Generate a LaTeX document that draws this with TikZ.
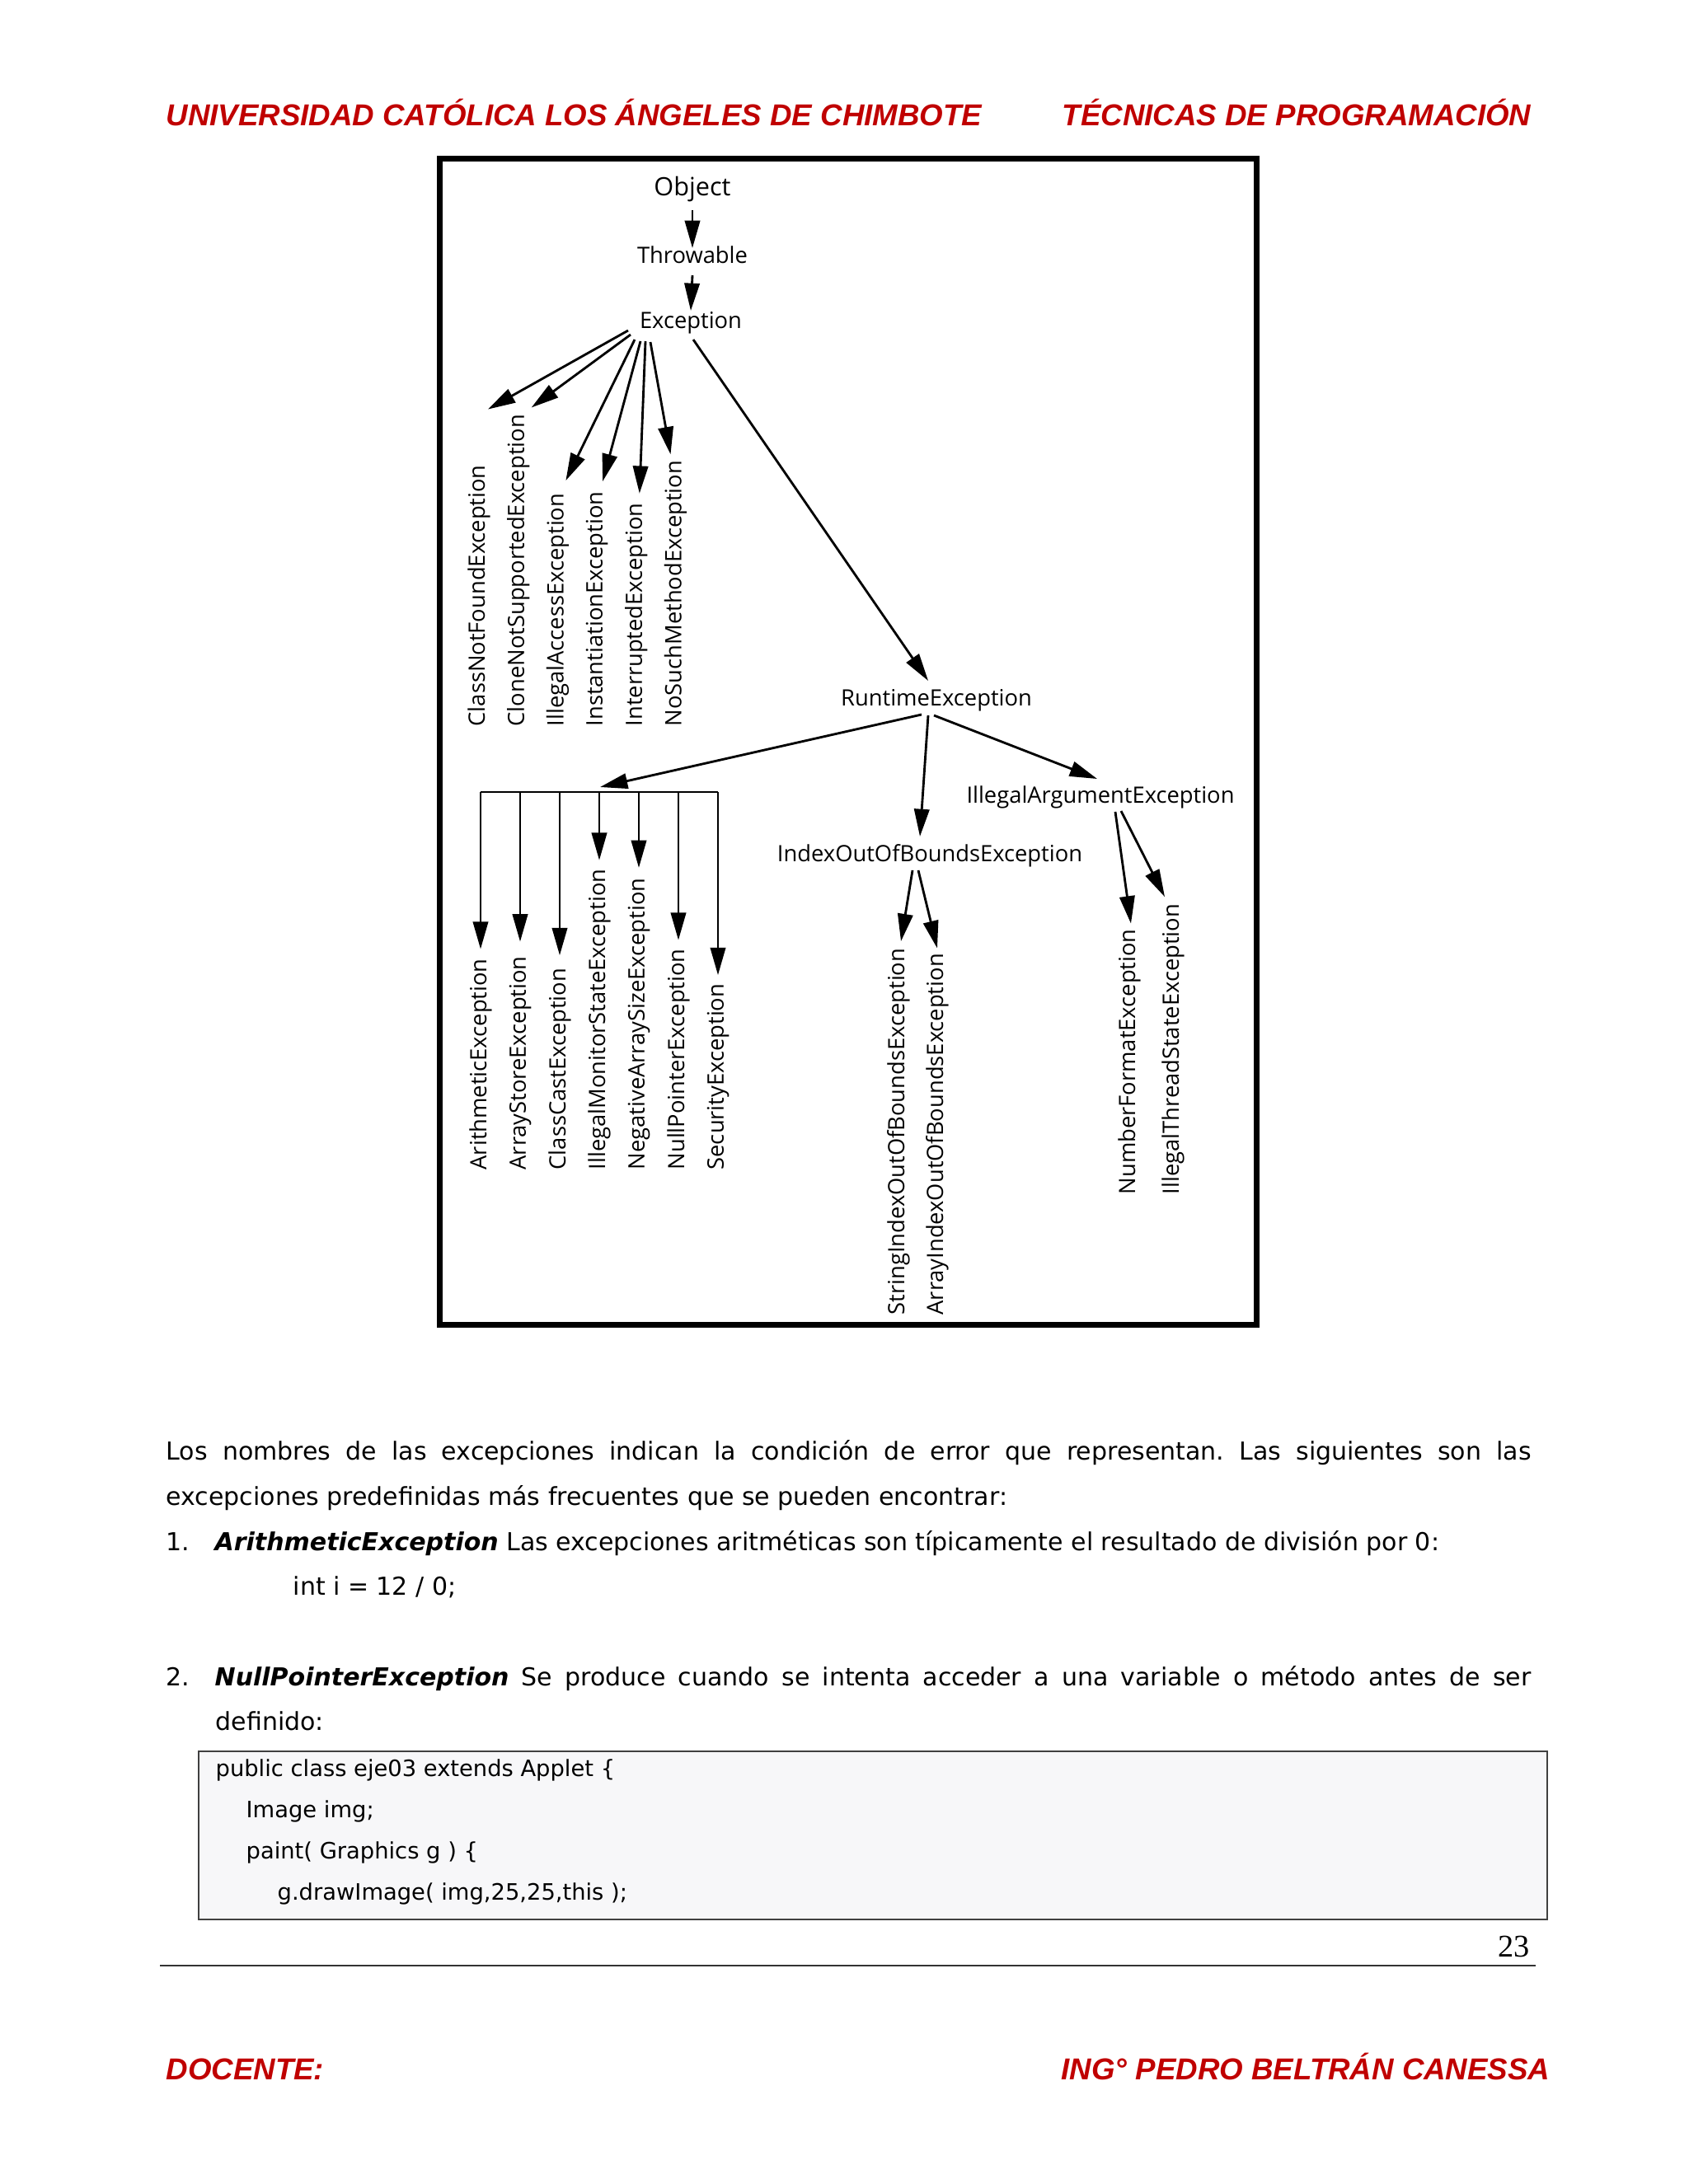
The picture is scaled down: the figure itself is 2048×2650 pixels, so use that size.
\documentclass[tikz,border=0pt]{standalone}
\usepackage{fontspec}
\setmainfont{DejaVu Sans}
\newfontfamily\diagfont{Open Sans}
\newfontfamily\headfont{Liberation Sans}
\newfontfamily\pagefont{Liberation Serif}
\usetikzlibrary{arrows.meta, positioning, calc}
\definecolor{headred}{HTML}{C00000}
\definecolor{codebg}{HTML}{F7F7F9}
\definecolor{codeline}{HTML}{404040}
\newlength{\pxu}
\setlength{\pxu}{0.10543mm}
\frenchspacing
\tikzset{
  arr/.style={-{Triangle[length=10pt,width=5.5pt]}, line width=0.85pt},
  cls/.style={font=\diagfont\fontsize{8.2}{10}\selectfont, inner sep=0pt, anchor=base},
  vcls/.style={font=\diagfont\fontsize{8.2}{10}\selectfont, inner sep=0pt, rotate=90, anchor=west},
  head/.style={font=\headfont\bfseries\itshape\fontsize{11}{13}\selectfont, text=headred, inner sep=0pt},
  body/.style={font=\fontsize{9}{11}\selectfont, inner sep=0pt, anchor=base west},
  code/.style={font=\fontsize{8.2}{10}\selectfont, inner sep=0pt, anchor=base west}
}

\begin{document}
\begin{tikzpicture}[x=0.10543mm, y=-0.10543mm]
            \useasboundingbox (0,0) rectangle (2048,2650);
            \fill[white] (0,0) rectangle (2048,2650);

            \node[head, anchor=base west] (hl) at (201,152) {UNIVERSIDAD CATÓLICA LOS ÁNGELES DE CHIMBOTE};
            \node[head, anchor=base east] (hr) at (1858,152) {TÉCNICAS DE PROGRAMACIÓN};

            \draw[line width=2.1pt] (533,192) rectangle (1524,1607);

            \node[cls, font=\diagfont\fontsize{9.2}{11}\selectfont] (obj) at (840,237) {Object};
            \node[cls] (thr) at (840,319) {Throwable};
            \node[cls] (exc) at (838,398) {Exception};
            \node[cls] (run) at (1136,856) {RuntimeException};
            \node[cls] (ia) at (1335,974) {IllegalArgumentException};
            \node[cls] (ioob) at (1128,1045) {IndexOutOfBoundsException};

            \foreach \n/\t [count=\i from 0] in {cnf/ClassNotFoundException, cns/CloneNotSupportedException, iae/IllegalAccessException, ie/InstantiationException, inte/InterruptedException, nsm/NoSuchMethodException}
              \node[vcls] (\n) at (581+47.7*\i, 882) {\t};

            \foreach \n/\t [count=\i from 0] in {ari/ArithmeticException, ast/ArrayStoreException, ccs/ClassCastException, ims/IllegalMonitorStateException, nas/NegativeArraySizeException, npe/NullPointerException, sec/SecurityException}
              \node[vcls] (\n) at (583+48*\i, 1420) {\t};

            \node[vcls] (sio) at (1090,1596) {StringIndexOutOfBoundsException};
            \node[vcls] (aio) at (1137,1596) {ArrayIndexOutOfBoundsException};
            \node[vcls] (nfe) at (1370,1450) {NumberFormatException};
            \node[vcls] (its) at (1423,1450) {IllegalThreadStateException};

            \draw[arr] ($(obj.base)+(0,18)$) -- ($(thr.base)+(0,-18)$);
            \draw[arr] ($(thr.base)+(0,15)$) -- ($(exc.base)+(0,-21)$);

            \draw[arr] ($(exc.base)+(-76,3)$) -- ($(cnf.east)+(11,-67)$);
            \draw[arr] ($(exc.base)+(-73,8)$) -- ($(cns.east)+(16,-8)$);
            \draw[arr] ($(exc.base)+(-68,14)$) -- ($(iae.east)+(10,-15)$);
            \draw[arr] ($(exc.base)+(-61,16)$) -- ($(ie.east)+(7,-12)$);
            \draw[arr] ($(exc.base)+(-55,16)$) -- ($(inte.east)+(4,-11)$);
            \draw[arr] ($(exc.base)+(-49,17)$) -- ($(nsm.east)+(-6,-7)$);
            \draw[arr] ($(exc.base)+(3,14)$) -- ($(run.base)+(-10,-30)$);

            \coordinate (bar) at (728,961);
            \draw[line width=0.85pt] (ari |- bar) -- (sec |- bar);
            \draw[arr] ($(run.base)+(-18,11)$) -- ($(bar)+(0,-6)$);
            \foreach \n/\g in {ari/11, ast/17, ccs/15, ims/10, nas/12, npe/10, sec/10}
              \draw[arr] (\n |- bar) -- ($(\n.east)+(0,-\g)$);

            \draw[arr] ($(run.base)+(-10,12)$) -- ($(ioob.base)+(-12,-30)$);
            \draw[arr] ($(run.base)+(-3,12)$) -- ($(ia.base)+(-4,-29)$);
            \draw[arr] ($(ioob.base)+(-21,11)$) -- ($(sio.east)+(3,-8)$);
            \draw[arr] ($(ioob.base)+(-14,11)$) -- ($(aio.east)+(0,-6)$);
            \draw[arr] ($(ia.base)+(18,11)$) -- ($(nfe.east)+(2,-6)$);
            \draw[arr] ($(ia.base)+(25,10)$) -- ($(its.east)+(-10,-8)$);

            \node[body] (p1) at (201,1771) {\makebox[1656\pxu][s]{Los nombres de las excepciones indican la condición de error que representan. Las siguientes son las}};
            \node[body] (p2) at (201,1826) {excepciones predefinidas más frecuentes que se pueden encontrar:};
            \node[body] (n1) at (201,1881) {1.};
            \node[body] (i1) at (260,1881) {\textbf{\textit{ArithmeticException}} Las excepciones aritméticas son típicamente el resultado de división por 0:};
            \node[body] (c1) at (355,1935) {int i = 12 / 0;};
            \node[body] (n2) at (201,2045) {2.};
            \node[body] (i2) at (260,2045) {\makebox[1597\pxu][s]{\textbf{\textit{NullPointerException}} Se produce cuando se intenta acceder a una variable o método antes de ser}};
            \node[body] (i2b) at (261,2099) {definido:};

            \draw[codeline, fill=codebg, line width=0.6pt] (241,2125) rectangle (1877,2329);
            \node[code] (l1) at (261,2155) {public class eje03 extends Applet \{};
            \node[code] (l2) at (298,2205) {Image img;};
            \node[code] (l3) at (298,2255) {paint( Graphics g ) \{};
            \node[code] (l4) at (336,2305) {g.drawImage( img,25,25,this );};

            \node[font=\pagefont\fontsize{11.5}{13}\selectfont, anchor=base east, inner sep=0pt] (pg) at (1856,2374) {23};
            \draw[line width=0.6pt, black!80] (194,2385) -- (1863,2385);

            \node[head, anchor=base west] (fl) at (201,2523) {DOCENTE:};
            \node[head, anchor=base east] (fr) at (1881,2523) {ING° PEDRO BELTRÁN CANESSA};
        \end{tikzpicture}
\end{document}
